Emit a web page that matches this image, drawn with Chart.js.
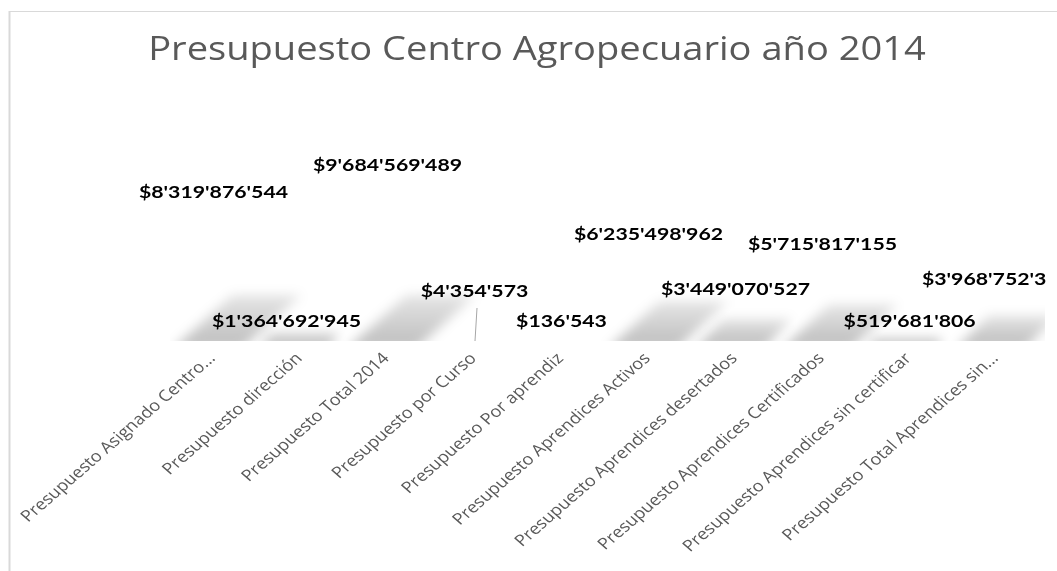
<!DOCTYPE html>
<html>
<head>
<meta charset="utf-8">
<script src="https://cdn.jsdelivr.net/npm/chart.js@4.4.1/dist/chart.umd.min.js"></script>
<style>
  html, body { margin: 0; padding: 0; background: #fff; }
  #wrap { width: 1057px; height: 571px; position: relative; }
</style>
</head>
<body>
<div id="wrap"><canvas id="budget"></canvas></div>
<script>
// Data
const CHART_TITLE = 'Presupuesto Centro Agropecuario año 2014';
const CATEGORIES = [
    'Presupuesto Asignado Centro...',
    'Presupuesto dirección',
    'Presupuesto Total 2014',
    'Presupuesto por Curso',
    'Presupuesto Por aprendiz',
    'Presupuesto Aprendices Activos',
    'Presupuesto Aprendices desertados',
    'Presupuesto Aprendices Certificados',
    'Presupuesto Aprendices sin certificar',
    'Presupuesto Total Aprendices sin...'
];
const BUDGET = [
    8319876544, 1364692945, 9684569489, 4354573, 136543,
    6235498962, 3449070527, 5715817155, 519681806, 3968752334
];

// Excel moved a couple of labels by hand; keep those tweaks apart from the data
const LABEL_NUDGE = { 1: {dx: -14}, 3: {dy: -30, leader: true} };

// The source picture was stretched sideways, so all text is widened a bit
const STRETCH = 1.19;

// $1'234'567 style
function money(v) {
    return '$' + String(v).replace(/\B(?=(\d{3})+(?!\d))/g, "'");
}

// Thin gray frame on the left and top (the picture is a crop of a bigger chart)
const chartFrame = {
    id: 'chartFrame',
    beforeDraw(chart) {
        const ctx = chart.ctx;
        ctx.save();
        ctx.strokeStyle = '#d9d9d9';
        ctx.lineWidth = 2;
        ctx.beginPath();
        ctx.moveTo(9.5, chart.height);
        ctx.lineTo(9.5, 11);
        ctx.stroke();
        ctx.lineWidth = 1;
        ctx.beginPath();
        ctx.moveTo(9, 11.5);
        ctx.lineTo(chart.width, 11.5);
        ctx.stroke();
        ctx.restore();
    }
};

// Soft shadows the 3D columns throw on the floor
const floorShadows = {
    id: 'floorShadows',
    beforeDatasetsDraw(chart) {
        const ctx = chart.ctx;
        const area = chart.chartArea;
        ctx.save();
        ctx.beginPath();
        ctx.rect(area.left, area.top, 1045 - area.left, area.bottom - area.top);
        ctx.clip();
        ctx.filter = 'blur(6px)';
        chart.getDatasetMeta(0).data.forEach(bar => {
            const h = Math.min(46, (bar.base - bar.y) * 0.32);
            if (h < 2) return;
            const dx = h * 1.3;
            const left = bar.x - bar.width * 0.65;
            const right = bar.x + bar.width * 0.45;
            const g = ctx.createLinearGradient(0, bar.base, 0, bar.base - h);
            g.addColorStop(0, 'rgba(0,0,0,0.24)');
            g.addColorStop(1, 'rgba(0,0,0,0.10)');
            ctx.fillStyle = g;
            ctx.beginPath();
            ctx.moveTo(left, bar.base + 8);
            ctx.lineTo(right, bar.base + 8);
            ctx.lineTo(right + dx, bar.base - h);
            ctx.lineTo(left + dx, bar.base - h);
            ctx.closePath();
            ctx.fill();
        });
        ctx.restore();
    }
};

// Value labels, bold and a bit wide like the original
const valueLabels = {
    id: 'valueLabels',
    afterDatasetsDraw(chart) {
        const ctx = chart.ctx;
        ctx.save();
        ctx.beginPath();
        ctx.rect(0, 0, 1046, chart.height);
        ctx.clip();
        chart.getDatasetMeta(0).data.forEach((bar, i) => {
            const nudge = LABEL_NUDGE[i] || {};
            const x = bar.x + (nudge.dx || 0);
            const y = Math.min(bar.y + 17, 322) + (nudge.dy || 0);
            if (nudge.leader) {
                ctx.strokeStyle = '#a6a6a6';
                ctx.lineWidth = 1;
                ctx.beginPath();
                ctx.moveTo(bar.x + 2.5, y + 16);
                ctx.lineTo(bar.x + 0.5, bar.base);
                ctx.stroke();
            }
            ctx.save();
            ctx.translate(x, y);
            ctx.scale(1.25, 1);
            ctx.font = 'bold 17px Lato';
            ctx.fillStyle = '#000';
            ctx.textAlign = 'center';
            ctx.textBaseline = 'middle';
            ctx.fillText(money(BUDGET[i]), 0, 0);
            ctx.restore();
        });
        ctx.restore();
    }
};

// Title and category names, drawn widened; names sit on the x scale's ticks
const stretchedText = {
    id: 'stretchedText',
    afterDraw(chart) {
        const ctx = chart.ctx;
        const xScale = chart.scales.x;
        ctx.save();
        ctx.fillStyle = '#595959';

        ctx.save();
        ctx.translate(537, 60);
        ctx.scale(STRETCH, 1);
        ctx.font = '32px "Open Sans"';
        ctx.textAlign = 'center';
        ctx.textBaseline = 'alphabetic';
        ctx.fillText(CHART_TITLE, 0, 0);
        ctx.restore();

        chart.data.labels.forEach((label, i) => {
            const x = xScale.getPixelForTick(i);
            ctx.save();
            ctx.translate(x - 1, xScale.top + 15);
            ctx.scale(1.15, 1);
            ctx.rotate(-45 * Math.PI / 180);
            ctx.font = '15.8px "Open Sans"';
            ctx.textAlign = 'right';
            ctx.textBaseline = 'middle';
            ctx.fillText(label, 0, 0);
            ctx.restore();
        });
        ctx.restore();
    }
};

const hiddenAxis = (position, width, extra) => Object.assign({
    position: position,
    display: true,
    grid: {display: false},
    border: {display: false},
    ticks: {display: false},
    afterFit: scale => { scale.width = width; }
}, extra);

let budgetChart = new Chart('budget', {
    type: 'bar',
    data: {
        labels: CATEGORIES,
        datasets: [{
            data: BUDGET,
            backgroundColor: 'rgba(255,255,255,0)',
            borderWidth: 0
        }]
    },
    options: {
        responsive: true,
        maintainAspectRatio: false,
        animation: false,
        devicePixelRatio: 1,
        layout: {padding: {top: 99, left: 20, right: 0, bottom: 0}},
        plugins: {
            legend: {display: false},
            tooltip: {enabled: false},
            title: {display: false}
        },
        scales: {
            x: {
                grid: {display: false},
                border: {display: false},
                ticks: {display: false},
                afterFit: scale => { scale.height = 230; }
            },
            y: hiddenAxis('left', 150, {min: 0, max: 12.2e9}),
            y2: hiddenAxis('right', 17, {type: 'linear', min: 0, max: 1})
        }
    },
    plugins: [chartFrame, floorShadows, valueLabels, stretchedText]
});
</script>
</body>
</html>
